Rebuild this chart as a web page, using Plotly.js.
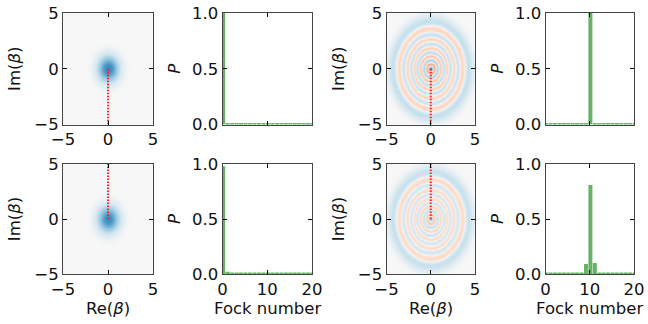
<!DOCTYPE html>
<html><head><meta charset="utf-8">
<script src="https://cdn.plot.ly/plotly-3.0.1.min.js"></script>
<style>html,body{margin:0;padding:0;background:#fff}#chart{width:648px;height:324px}</style>
</head><body><div id="chart"></div>
<script>
// ---- data ----
const fockNumbers = [0,1,2,3,4,5,6,7,8,9,10,11,12,13,14,15,16,17,18,19,20];
const pVacuumTop    = [1.00,0,0,0,0,0,0,0,0,0,0,0,0,0,0,0,0,0,0,0,0];
const pVacuumBottom = [0.98,0.02,0,0,0,0,0,0,0,0,0,0,0,0,0,0,0,0,0,0,0];
const pFockTop      = [0,0,0,0,0,0,0,0,0,0,1.00,0,0,0,0,0,0,0,0,0,0];
const pFockBottom   = [0,0,0,0,0,0,0,0,0,0.09,0.81,0.10,0,0,0,0,0,0,0,0,0];
const phaseLineX = [0, 0];
const phaseLineTopY = [0, -5];
const phaseLineBottomY = [0, 5];
const wignerTicks = [-5, 0, 5];
const fockTicks = [0, 10, 20];
const probTicks = [0, 0.5, 1.0];
const reLabel = 'Re(<i>β</i>)';
const imLabel = 'Im(<i>β</i>)';
const pLabel = '<i>P</i>';
const fockLabel = 'Fock number';

// ---- Wigner function of a Fock-diagonal state ----
const NG = 181;
const grid = Array.from({length: NG}, (_, i) => -5 + 10 * i / (NG - 1));
function wigner(p) {
  const z = [];
  for (let j = 0; j < NG; j++) {
    const row = [];
    for (let i = 0; i < NG; i++) {
      const r2 = grid[i] * grid[i] + grid[j] * grid[j];
      const u = 2 * r2;
      let Lm1 = 0, L = 1, w = 0;
      for (let n = 0; n < p.length; n++) {
        if (n === 1) { Lm1 = 1; L = 1 - u; }
        else if (n > 1) { const Ln = ((2 * n - 1 - u) * L - (n - 1) * Lm1) / n; Lm1 = L; L = Ln; }
        if (p[n]) w += p[n] * (n % 2 ? -1 : 1) * L;
      }
      row.push(w * Math.exp(-r2) / Math.PI);
    }
    z.push(row);
  }
  return z;
}
const zlim = 1 / Math.PI;
// matplotlib RdBu, sampled through a soft (gamma) normalisation
const rdbuStops = ['#67001f','#b2182b','#d6604d','#f4a582','#fddbc7','#f7f7f7','#d1e5f0','#92c5de','#4393c3','#2166ac','#053061'];
function hex2rgb(h){return [1,3,5].map(i=>parseInt(h.slice(i,i+2),16));}
function rdbuAt(t){
  const f = Math.max(0, Math.min(1, t)) * 10, i = Math.min(9, Math.floor(f)), u = f - i;
  const a = hex2rgb(rdbuStops[i]), b = hex2rgb(rdbuStops[i+1]);
  return 'rgb(' + a.map((v,k)=>Math.round(v + (b[k]-v)*u)).join(',') + ')';
}
const gamma = 0.65, amp = 0.66, NS = 61;
const colorscale = Array.from({length: NS}, (_, k) => {
  const t = k / (NS - 1), s = 2 * t - 1;
  const c = Math.sign(s) * Math.pow(Math.abs(s), gamma) * amp;
  return [t, rdbuAt(0.5 + c / 2)];
});
const green = '#66b366';

const panels = [
  {kind:'w', p:pVacuumTop, line:phaseLineTopY, row:0, col:0},
  {kind:'f', p:pVacuumTop, row:0, col:1},
  {kind:'w', p:pFockTop, line:phaseLineTopY, row:0, col:2},
  {kind:'f', p:pFockTop, row:0, col:3},
  {kind:'w', p:pVacuumBottom, line:phaseLineBottomY, row:1, col:0},
  {kind:'f', p:pVacuumBottom, row:1, col:1},
  {kind:'w', p:pFockBottom, line:phaseLineBottomY, row:1, col:2},
  {kind:'f', p:pFockBottom, row:1, col:3},
];
const W = 648, H = 324;
const colX = [[63,153],[222.5,312],[386.5,475],[545.5,634]];
const rowY = [[13,124.5],[164,274]];
const xTitleY = 308;
const font = {family:'DejaVu Sans', size:16.5, color:'#111'};
const traces = [];
const annotations = [];
const layout = {
  width: W, height: H, margin:{l:0,r:0,t:0,b:0},
  paper_bgcolor:'#fff', plot_bgcolor:'#fff', showlegend:false, font: font, annotations: annotations
};
const axBase = {
  ticks:'inside', ticklen:4, tickwidth:1, tickcolor:'#000', showline:true, linecolor:'#444',
  linewidth:1, mirror:'ticks', showgrid:false, zeroline:false, tickfont:font, fixedrange:true
};
panels.forEach((pn, k) => {
  const id = k + 1;
  const xa = 'x' + id, ya = 'y' + id;
  const xd = [colX[pn.col][0] / W, colX[pn.col][1] / W];
  const yd = [1 - rowY[pn.row][1] / H, 1 - rowY[pn.row][0] / H];
  const xkey = 'xaxis' + id, ykey = 'yaxis' + id;
  if (pn.row === 1) {
    annotations.push({text: pn.kind === 'w' ? reLabel : fockLabel, xref:'paper', yref:'paper',
      x:(xd[0] + xd[1]) / 2, y:1 - xTitleY / H, xanchor:'center', yanchor:'middle', showarrow:false, font:font});
  }
  if (pn.kind === 'w') {
    traces.push({type:'heatmap', x:grid, y:grid, z:wigner(pn.p), colorscale:colorscale, zmin:-zlim, zmax:zlim,
      zsmooth:'best', showscale:false, xaxis:xa, yaxis:ya, hoverinfo:'skip'});
    traces.push({type:'scatter', mode:'lines', x:phaseLineX, y:pn.line,
      line:{color:'#ff2020', width:2, dash:'1.5px,1.5px'}, xaxis:xa, yaxis:ya, hoverinfo:'skip'});
    layout[xkey] = Object.assign({}, axBase, {domain:xd, anchor:ya, range:[-5,5], tickvals:wignerTicks});
    layout[ykey] = Object.assign({}, axBase, {domain:yd, anchor:xa, range:[-5,5], tickvals:wignerTicks,
      title:{text:imLabel, font:font}});
  } else {
    traces.push({type:'bar', x:fockNumbers, y:pn.p, width:0.9, offset:-0.3,
      marker:{color:green, line:{color:green, width:pn.p.map(v => v === 0 ? 3 : 0)}},
      xaxis:xa, yaxis:ya, hoverinfo:'skip'});
    layout[xkey] = Object.assign({}, axBase, {domain:xd, anchor:ya, range:[0,20], tickvals:fockTicks,
      showticklabels: pn.row === 1});
    layout[ykey] = Object.assign({}, axBase, {domain:yd, anchor:xa, range:[0,1], tickvals:probTicks,
      tickformat:'.1f', title:{text:pLabel, font:font}});
  }
});
Plotly.newPlot('chart', traces, layout, {staticPlot:true, displayModeBar:false});
</script></body></html>
